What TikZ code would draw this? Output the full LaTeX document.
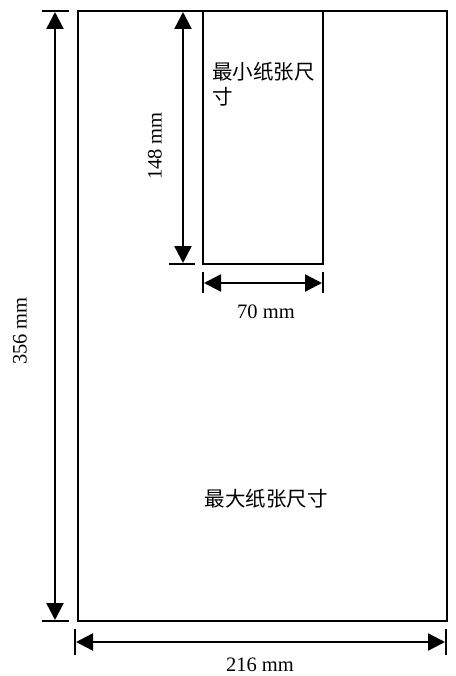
\documentclass[tikz,border=0pt]{standalone}
\usepackage{fontspec}
\setmainfont{Liberation Serif}
\newfontfamily\cjk{Noto Sans CJK SC}
\usetikzlibrary{arrows.meta}
\begin{document}
\begin{tikzpicture}[x=1bp,y=-1bp,
  box/.style={draw=black,line width=2.4bp},
  tick/.style={draw=black,line width=2.4bp},
  dim/.style={draw=black,line width=2.4bp,{Triangle[length=17bp,width=17bp]}-{Triangle[length=17bp,width=17bp]}},
  lab/.style={font=\fontsize{20.5bp}{24bp}\selectfont,inner sep=0pt},
  cjklab/.style={font=\cjk\fontsize{20.5bp}{25bp}\selectfont,inner sep=0pt}]
\useasboundingbox (0,0) rectangle (456,676);
% outer paper
\coordinate (OTL) at (78,11);
\coordinate (OBR) at (447,621);
\draw[box] (OTL) rectangle (OBR);
% inner paper
\coordinate (ITL) at (203,11);
\coordinate (IBR) at (323,264);
\draw[box] (ITL) rectangle (IBR);
% left dimension 356
\coordinate (LT1) at (42,11); \coordinate (LT2) at (69,11);
\coordinate (LB1) at (42,621); \coordinate (LB2) at (69,621);
\draw[tick] (LT1) -- (LT2);
\draw[tick] (LB1) -- (LB2);
\coordinate (LA1) at (55,12); \coordinate (LA2) at (55,620);
\draw[dim] (LA1) -- (LA2);
\node[lab,rotate=90] (l356) at (20,331) {356 mm};
% inner vertical 148
\coordinate (IT1) at (169,264); \coordinate (IT2) at (195,264);
\draw[tick] (IT1) -- (IT2);
\coordinate (IA1) at (183,12); \coordinate (IA2) at (183,263);
\draw[dim] (IA1) -- (IA2);
\node[lab,rotate=90] (l148) at (155,146) {148 mm};
% 70 mm
\coordinate (S1a) at (203,272); \coordinate (S1b) at (203,293);
\coordinate (S2a) at (323,272); \coordinate (S2b) at (323,293);
\draw[tick] (S1a) -- (S1b);
\draw[tick] (S2a) -- (S2b);
\coordinate (SA1) at (204,283); \coordinate (SA2) at (322,283);
\draw[dim] (SA1) -- (SA2);
\node[lab] (l70) at (266,312) {70 mm};
% 216 mm
\coordinate (B1a) at (75,629); \coordinate (B1b) at (75,655);
\coordinate (B2a) at (446,629); \coordinate (B2b) at (446,655);
\draw[tick] (B1a) -- (B1b);
\draw[tick] (B2a) -- (B2b);
\coordinate (BA1) at (76,642); \coordinate (BA2) at (445,642);
\draw[dim] (BA1) -- (BA2);
\node[lab] (l216) at (260,665) {216 mm};
% labels
\node[cjklab,anchor=north west,align=left] (small) at (212,62) {最小纸张尺\\寸};
\node[cjklab] (big) at (266,499) {最大纸张尺寸};
\end{tikzpicture}
\end{document}
